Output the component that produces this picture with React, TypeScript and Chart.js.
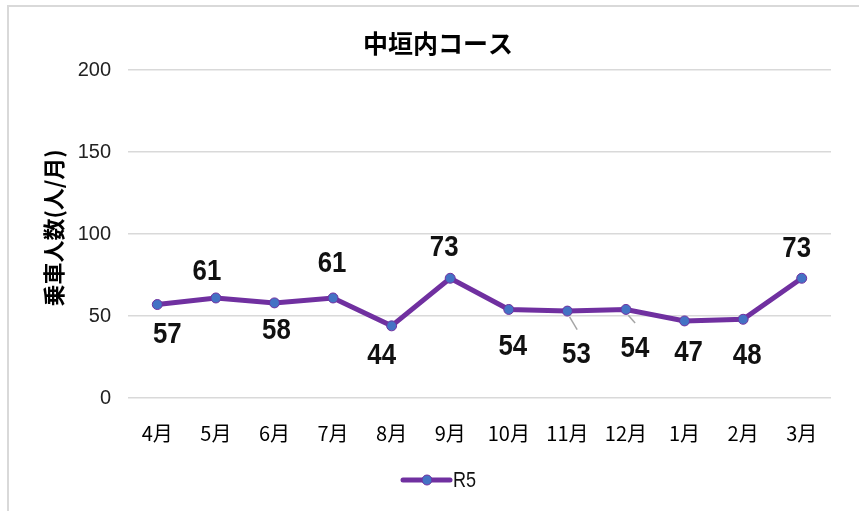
import React, { useEffect, useRef } from "react";
import { Chart, registerables } from "chart.js";

Chart.register(...registerables);

const chartTitle = "中垣内コース";
const yAxisTitle = "乗車人数(人/月)";
const seriesName = "R5";
const months = ["4月", "5月", "6月", "7月", "8月", "9月", "10月", "11月", "12月", "1月", "2月", "3月"];
const riders = [57, 61, 58, 61, 44, 73, 54, 53, 54, 47, 48, 73];
const yTicks = [0, 50, 100, 150, 200];

// label placement relative to each point (dx, dy in px)
const labelOffsets: [number, number][] = [
  [10, 30], [-9, -26], [2, 28], [-1, -34], [-10, 30], [-6, -31],
  [4, 37], [9, 44], [9, 39], [4, 32], [4, 36], [-5, -30],
];
const leaderLines = [false, false, false, false, false, false, false, true, true, false, false, false];

const LINE_COLOR = "#7030A0";
const POINT_COLOR = "#4472C4";
const SANS = '"Liberation Sans", Arial, sans-serif';
const CJK = '"Noto Sans CJK JP", "Noto Sans", sans-serif';

function condensedText(ctx: any, text: string, x: number, y: number, sx: number) {
  ctx.save();
  ctx.translate(x, y);
  ctx.scale(sx, 1);
  ctx.fillText(text, 0, 0);
  ctx.restore();
}

const decorPlugin = {
  id: "decor",
  afterDatasetsDraw(chart: any) {
    const ctx = chart.ctx;
    const meta = chart.getDatasetMeta(0);
    ctx.save();
    meta.data.forEach((pt: any, i: number) => {
      const [dx, dy] = labelOffsets[i];
      const lx = pt.x + dx;
      const ly = pt.y + dy;
      if (leaderLines[i]) {
        const len = Math.hypot(dx, dy);
        const ux = dx / len;
        const uy = dy / len;
        ctx.strokeStyle = "#a6a6a6";
        ctx.lineWidth = 1.5;
        ctx.beginPath();
        ctx.moveTo(pt.x + ux * 6 + 1, pt.y + uy * 6);
        ctx.lineTo(pt.x + ux * (len - 26) + 6, pt.y + uy * (len - 26));
        ctx.stroke();
      }
      ctx.fillStyle = "#111";
      ctx.font = `bold 30px ${SANS}`;
      ctx.textAlign = "center";
      ctx.textBaseline = "middle";
      condensedText(ctx, String(riders[i]), lx, ly, 0.86);
    });
    ctx.restore();
  },
  afterDraw(chart: any) {
    const ctx = chart.ctx;
    ctx.save();
    ctx.fillStyle = "#000";
    ctx.font = `bold 25px ${CJK}`;
    ctx.textAlign = "center";
    ctx.textBaseline = "middle";
    ctx.fillText(chartTitle, 438, 43);
    ctx.save();
    ctx.translate(54, 228);
    ctx.rotate(-Math.PI / 2);
    ctx.font = `bold 22px ${CJK}`;
    ctx.fillText(yAxisTitle, 0, 0);
    ctx.restore();
    // legend
    const lx = 427;
    const ly = 480;
    ctx.strokeStyle = LINE_COLOR;
    ctx.lineWidth = 5;
    ctx.lineCap = "round";
    ctx.beginPath();
    ctx.moveTo(lx - 24, ly);
    ctx.lineTo(lx + 23, ly);
    ctx.stroke();
    ctx.beginPath();
    ctx.arc(lx, ly, 5, 0, Math.PI * 2);
    ctx.fillStyle = POINT_COLOR;
    ctx.fill();
    ctx.lineWidth = 1;
    ctx.stroke();
    ctx.fillStyle = "#111";
    ctx.font = `22px ${SANS}`;
    ctx.textAlign = "left";
    ctx.textBaseline = "middle";
    condensedText(ctx, seriesName, 453, ly + 1, 0.82);
    ctx.restore();
  },
};

export default function App() {
  const canvasRef = useRef<HTMLCanvasElement | null>(null);

  useEffect(() => {
    const canvas = canvasRef.current;
    if (!canvas) return;
    const chart = new Chart(canvas, {
      type: "line",
      data: {
        labels: months,
        datasets: [
          {
            label: seriesName,
            data: riders,
            borderColor: LINE_COLOR,
            borderWidth: 5,
            pointRadius: 5,
            pointBackgroundColor: POINT_COLOR,
            pointBorderColor: LINE_COLOR,
            pointBorderWidth: 1,
            tension: 0,
          },
        ],
      },
      options: {
        responsive: false,
        animation: false,
        layout: { padding: { top: 70, left: 0, right: 28, bottom: 0 } },
        plugins: {
          legend: { display: false },
          title: { display: false },
          tooltip: { enabled: false },
        },
        scales: {
          x: {
            offset: true,
            grid: { display: false },
            border: { display: false },
            ticks: {
              padding: 15,
              color: "#000",
              font: { size: 20, family: CJK },
              maxRotation: 0,
              autoSkip: false,
            },
            afterFit: (s: any) => {
              s.height = 113;
            },
          },
          y: {
            min: yTicks[0],
            max: yTicks[yTicks.length - 1],
            ticks: {
              stepSize: 50,
              padding: 17,
              color: "#222",
              font: { size: 20, family: SANS },
            },
            grid: { color: "#d9d9d9", lineWidth: 1.5, drawTicks: false },
            border: { display: false },
            afterFit: (s: any) => {
              s.width = 128;
            },
          },
        },
      },
      plugins: [decorPlugin],
    });
    return () => chart.destroy();
  }, []);

  return (
    <div style={{ position: "fixed", left: 0, top: 0, width: 859, height: 511, background: "#fff" }}>
      <div
        style={{
          position: "absolute",
          left: 7,
          top: 5,
          right: -4,
          bottom: -4,
          borderTop: "2px solid #d9d9d9",
          borderLeft: "2px solid #d9d9d9",
        }}
      />
      <canvas ref={canvasRef} width={859} height={511} style={{ position: "absolute", left: 0, top: 0 }} />
    </div>
  );
}
